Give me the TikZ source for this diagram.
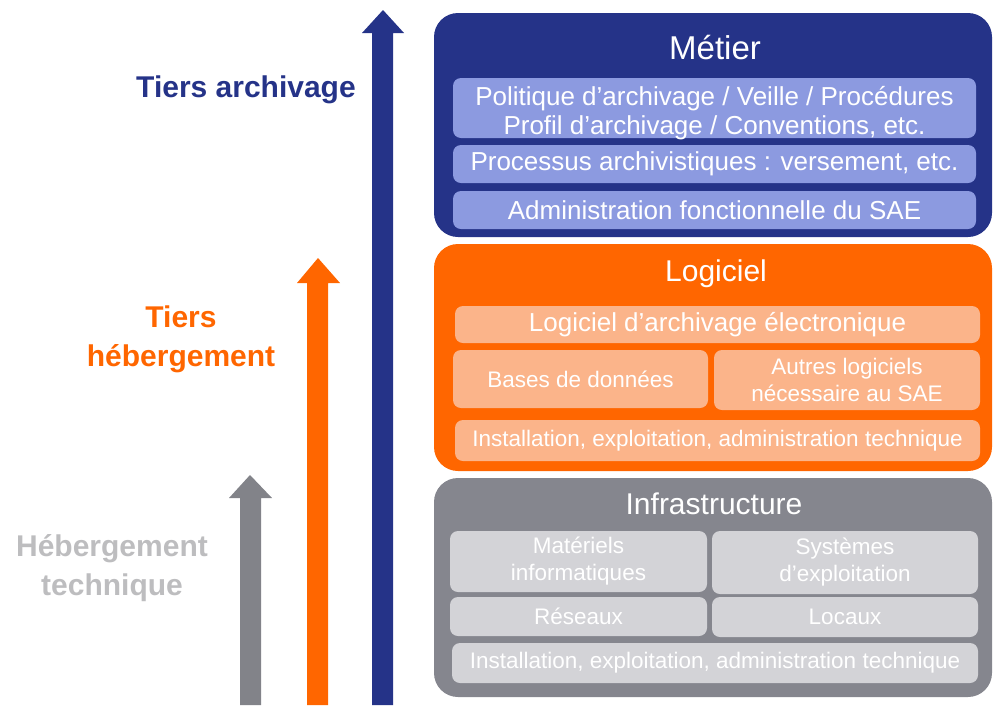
\documentclass[tikz,border=0pt]{standalone}
\usepackage{fontspec}
\setmainfont{Liberation Sans}
\definecolor{navy}{HTML}{253388}
\definecolor{lav}{HTML}{8C9AE0}
\definecolor{orng}{HTML}{FF6600}
\definecolor{lorng}{HTML}{FBB48A}
\definecolor{gbox}{HTML}{85868E}
\definecolor{lgray}{HTML}{D3D3D7}
\definecolor{glabel}{HTML}{BDBDBF}
\definecolor{garrow}{HTML}{828389}
\tikzset{
  mainbox/.style={rounded corners=24pt, inner sep=0pt},
  subbox/.style={rounded corners=8pt, inner sep=0pt, text=white, align=center, font=\fontsize{26}{29}\selectfont},
  smallsub/.style={subbox, font=\fontsize{22.5}{27}\selectfont},
  title/.style={text=white, font=\fontsize{30}{34}\selectfont},
  sidelabel/.style={align=center, font=\fontsize{30}{39}\selectfont\bfseries},
}
\begin{document}
\begin{tikzpicture}[x=1pt,y=-1pt]
\useasboundingbox (0,0) rectangle (993,705);
% arrows
\fill[garrow] (240,705) -- (240,498) -- (229,498) -- (250,475) -- (272,498) -- (261,498) -- (261,705) -- cycle;
\fill[orng] (307,705) -- (307,283) -- (297,283) -- (318,258) -- (340,283) -- (328,283) -- (328,705) -- cycle;
\fill[navy] (372,705) -- (372,33) -- (362,33) -- (383,10) -- (404,33) -- (393,33) -- (393,705) -- cycle;
% side labels
\node[sidelabel, text=navy] (ta) at (246,90) {Tiers archivage};
\node[sidelabel, text=orng] (th) at (181,339) {Tiers\\hébergement};
\node[sidelabel, text=glabel] (ht) at (112,568) {Hébergement\\technique};
% Metier
\node[mainbox, fill=navy, minimum width=558pt, minimum height=224pt] (metier) at (713,125) {};
\node[title, font=\fontsize{33}{36}\selectfont] (metiert) at (715,48) {Métier};
\node[subbox, fill=lav, minimum width=523pt, minimum height=60pt] (pol) at (714.5,108) {};
\node[subbox] (polt) at (714.5,113) {Politique d’archivage / Veille / Procédures\\Profil d’archivage / Conventions, etc.};
\node[subbox, fill=lav, minimum width=523pt, minimum height=38pt] (proc) at (714.5,164) {Processus archivistiques : versement, etc.};
\node[subbox, fill=lav, minimum width=523pt, minimum height=38pt] (adm) at (714.5,210) {Administration fonctionnelle du SAE};
% Logiciel
\node[mainbox, fill=orng, minimum width=558pt, minimum height=227pt] (logiciel) at (713,357.5) {};
\node[title] (logt) at (716,274) {Logiciel};
\node[subbox, fill=lorng, minimum width=525pt, minimum height=37pt] (lae) at (717.5,324.5) {Logiciel d’archivage électronique};
\node[smallsub, fill=lorng, minimum width=255pt, minimum height=58pt] (bdd) at (580.5,379) {Bases de données};
\node[smallsub, fill=lorng, minimum width=266pt, minimum height=60pt] (autres) at (847,380) {Autres logiciels\\nécessaire au SAE};
\node[smallsub, fill=lorng, minimum width=525pt, minimum height=41pt] (inst1) at (717.5,440.5) {Installation, exploitation, administration technique};
% Infrastructure
\node[mainbox, fill=gbox, minimum width=558pt, minimum height=219pt] (infra) at (713,587.5) {};
\node[title] (inft) at (714,504) {Infrastructure};
\node[smallsub, fill=lgray, minimum width=257pt, minimum height=61pt] (mat) at (578.5,561.5) {Matériels\\informatiques};
\node[smallsub, fill=lgray, minimum width=266pt, minimum height=63pt] (sys) at (845,562.5) {Systèmes\\d’exploitation};
\node[smallsub, fill=lgray, minimum width=257pt, minimum height=39pt] (res) at (578.5,616.5) {Réseaux};
\node[smallsub, fill=lgray, minimum width=266pt, minimum height=40pt] (loc) at (845,617) {Locaux};
\node[smallsub, fill=lgray, minimum width=526pt, minimum height=40pt] (inst2) at (715,663) {Installation, exploitation, administration technique};
\end{tikzpicture}
\end{document}
